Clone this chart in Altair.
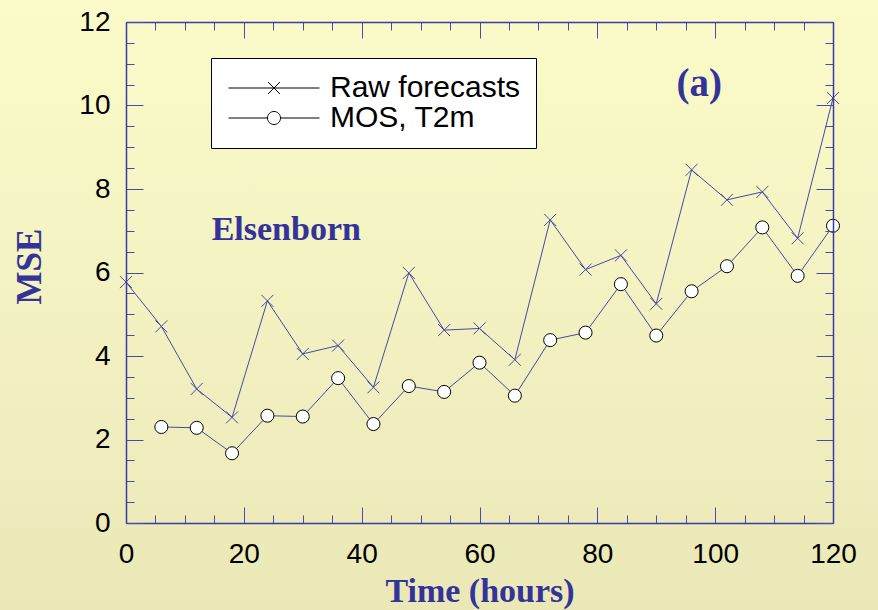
import altair as alt
import pandas as pd

# ---- data ----
raw_hours = [0, 6, 12, 18, 24, 30, 36, 42, 48, 54, 60, 66, 72, 78, 84, 90, 96, 102, 108, 114, 120]
raw_mse = [5.77, 4.71, 3.21, 2.53, 5.32, 4.05, 4.25, 3.25, 5.99, 4.62, 4.66, 3.91, 7.26, 6.07, 6.41, 5.25, 8.46, 7.74, 7.93, 6.82, 10.18]

mos_hours = [6, 12, 18, 24, 30, 36, 42, 48, 54, 60, 66, 72, 78, 84, 90, 96, 102, 108, 114, 120]
mos_mse = [2.30, 2.28, 1.67, 2.57, 2.55, 3.47, 2.37, 3.28, 3.14, 3.84, 3.05, 4.38, 4.56, 5.72, 4.49, 5.55, 6.15, 7.08, 5.92, 7.12]

series_names = ["Raw forecasts", "MOS, T2m"]

x_major = [0, 20, 40, 60, 80, 100, 120]
x_minor = list(range(0, 121, 5))
y_major = [0, 2, 4, 6, 8, 10, 12]
y_minor = [i * 0.5 for i in range(0, 25)]

ann_text = ["Elsenborn", "(a)"]
ann_x = [27.2, 97.3]
ann_y = [6.79, 10.22]

# ---- styling ----
BLUE = "#333399"
FRAME = "#3b3ba8"
LINE_BLUE = "#4848a8"
TICK = "#4a4aac"
SERIF = "Liberation Serif"
SANS = "Liberation Sans"

raw_df = pd.DataFrame({"hour": raw_hours, "mse": raw_mse})
mos_df = pd.DataFrame({"hour": mos_hours, "mse": mos_mse})
ann_df = pd.DataFrame({"label": ann_text, "hour": ann_x, "mse": ann_y})
leg_df = pd.DataFrame({"series": series_names})

xs = alt.Scale(domain=[0, 120], nice=False, zero=False)
ys = alt.Scale(domain=[0, 12], nice=False, zero=False)

common = dict(grid=False, domain=False, tickColor=TICK, tickWidth=1, zindex=1)


def xaxis(orient, values, size, labels=False, title=None):
    kw = dict(common)
    if labels:
        kw.update(labelFont=SANS, labelFontSize=28, labelColor="black",
                  labelFlush=False, labelOverlap=False, labelPadding=17, format="d",
                  title=title, titleFont=SERIF, titleFontSize=34, titleFontWeight="bold",
                  titleColor=BLUE, titlePadding=6)
    else:
        kw.update(labels=False, title=None)
    return alt.Axis(orient=orient, values=values, tickSize=size, offset=-size, **kw)


def yaxis(orient, values, size, labels=False, title=None):
    kw = dict(common)
    if labels:
        kw.update(labelFont=SANS, labelFontSize=28, labelColor="black",
                  labelFlush=False, labelOverlap=False, labelPadding=16, format="d",
                  title=title, titleFont=SERIF, titleFontSize=35, titleFontWeight="bold",
                  titleColor=BLUE, titlePadding=31, titleY=244)
    else:
        kw.update(labels=False, title=None)
    return alt.Axis(orient=orient, values=values, tickSize=size, offset=-size, **kw)


def frame_axis(orient):
    return alt.Axis(orient=orient, domain=True, domainColor=FRAME, domainWidth=1.5,
                    ticks=False, labels=False, title=None, grid=False, zindex=1)


gradient = alt.LinearGradient(
    gradient="linear", x1=0, y1=0, x2=0, y2=1,
    stops=[alt.GradientStop(color="#fbfbca", offset=0),
           alt.GradientStop(color="#ebe8b8", offset=1)])

bg = alt.Chart(pd.DataFrame({"k": [0]})).mark_rect(color=gradient).encode(
    x=alt.value(-126), x2=alt.value(752), y=alt.value(-22), y2=alt.value(588))

raw_line = alt.Chart(raw_df).mark_line(color=LINE_BLUE, strokeWidth=1).encode(
    x=alt.X("hour:Q", scale=xs, axis=xaxis("bottom", x_major, 16, True, "Time  (hours)")),
    y=alt.Y("mse:Q", scale=ys, axis=yaxis("left", y_major, 17, True, "MSE")))

raw_pts = alt.Chart(raw_df).mark_point(
    shape="M-1,-1L1,1M-1,1L1,-1", size=144, filled=False, stroke=LINE_BLUE,
    strokeWidth=1, opacity=1).encode(
    x=alt.X("hour:Q", scale=xs, axis=xaxis("bottom", x_minor, 8)),
    y=alt.Y("mse:Q", scale=ys, axis=yaxis("left", y_minor, 8)))

mos_line = alt.Chart(mos_df).mark_line(color=LINE_BLUE, strokeWidth=1).encode(
    x=alt.X("hour:Q", scale=xs, axis=xaxis("top", x_major, 16)),
    y=alt.Y("mse:Q", scale=ys, axis=yaxis("right", y_major, 17)))

mos_pts = alt.Chart(mos_df).mark_point(
    shape="circle", size=170, filled=True, fill="white", stroke="black",
    strokeWidth=1, opacity=1).encode(
    x=alt.X("hour:Q", scale=xs, axis=xaxis("top", x_minor, 8)),
    y=alt.Y("mse:Q", scale=ys, axis=yaxis("right", y_minor, 8)))

station_text = alt.Chart(ann_df).transform_filter(
    alt.datum.label == ann_text[0]).mark_text(
    font=SERIF, fontSize=34, fontWeight="bold", color=BLUE, align="center",
    baseline="alphabetic").encode(
    x=alt.X("hour:Q", scale=xs, axis=frame_axis("bottom")),
    y=alt.Y("mse:Q", scale=ys, axis=frame_axis("left")),
    text="label:N")

panel_text = alt.Chart(ann_df).transform_filter(
    alt.datum.label == ann_text[1]).mark_text(
    font=SERIF, fontSize=39, fontWeight="bold", color=BLUE, align="center",
    baseline="alphabetic").encode(
    x=alt.X("hour:Q", scale=xs, axis=None),
    y=alt.Y("mse:Q", scale=ys, axis=None),
    text="label:N")

frame = alt.Chart(raw_df).mark_point(size=0, opacity=0).encode(
    x=alt.X("hour:Q", scale=xs, axis=frame_axis("top")),
    y=alt.Y("mse:Q", scale=ys, axis=frame_axis("right")))

# legend symbols: a line with the series' marker in its middle
raw_sym = "M-3.14,0L3.14,0M-0.41,-0.41L0.41,0.41M-0.41,0.41L0.41,-0.41"
mos_sym = ("M-3.14,0L-0.45,0M0.45,0L3.14,0M0.45,0A0.45,0.45,0,1,1,-0.45,0"
           "A0.45,0.45,0,1,1,0.45,0")

legend_layer = alt.Chart(leg_df).transform_filter("false").mark_point().encode(
    shape=alt.Shape("series:N",
                    scale=alt.Scale(domain=series_names, range=[raw_sym, mos_sym]),
                    legend=alt.Legend(
                        title=None, orient="none", legendX=85, legendY=36,
                        fillColor="white", strokeColor="black", padding=15,
                        symbolSize=841, symbolStrokeWidth=1, symbolOffset=33,
                        symbolFillColor="white", symbolStrokeColor="black",
                        symbolOpacity=1, labelFont=SANS, labelFontSize=30,
                        labelColor="black", labelOffset=41, rowPadding=0,
                        labelLimit=400)))

chart = alt.layer(bg, raw_line, raw_pts, mos_line, mos_pts, station_text, panel_text,
                  frame, legend_layer).resolve_scale(
    x="independent", y="independent", shape="independent"
).properties(
    width=707, height=501,
    autosize=alt.AutoSizeParams(type="none"),
    padding={"left": 126, "top": 22, "right": 45, "bottom": 87},
    background="#f5f3c3",
).configure_view(stroke=None)

chart.save("out.html", embed_options={"renderer": "svg", "actions": False})
